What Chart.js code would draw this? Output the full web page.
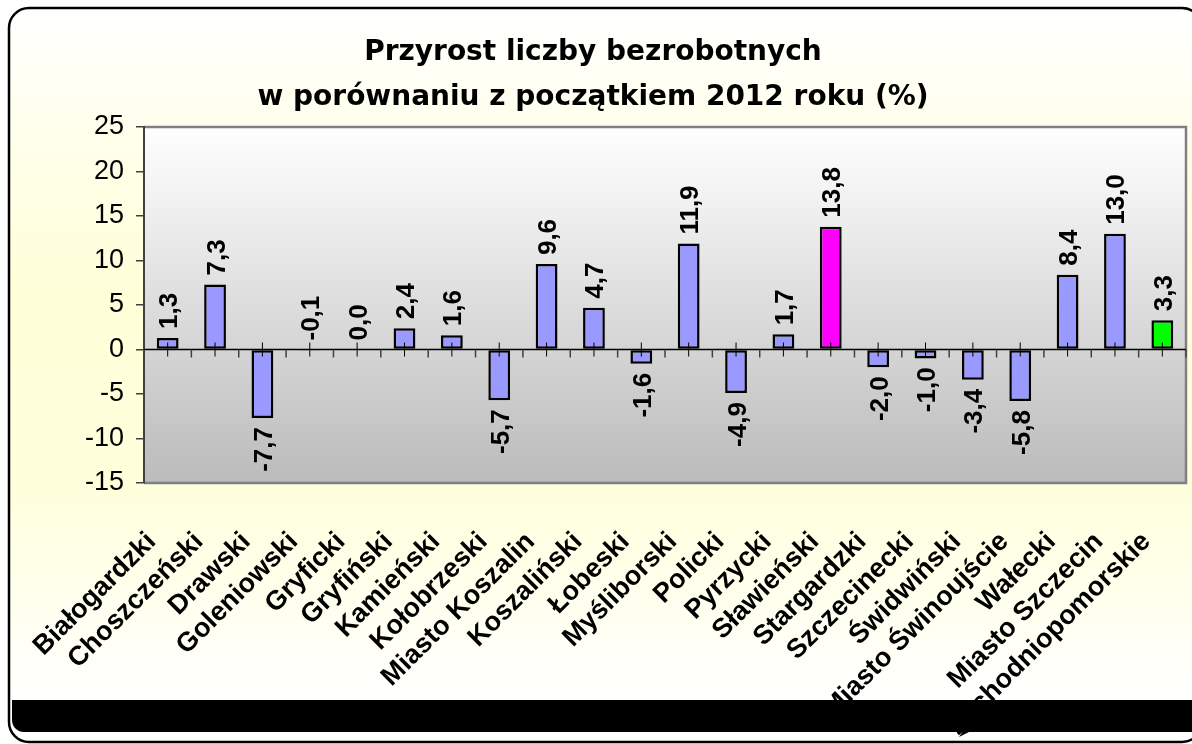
<!DOCTYPE html>
<html><head><meta charset="utf-8">
<script src="https://cdn.jsdelivr.net/npm/chart.js@4/dist/chart.umd.min.js"></script>
<style>html,body{margin:0;padding:0;background:#fff;overflow:hidden}#wrap{width:1192px;height:744px;position:relative}</style>
</head><body><div id="wrap"><canvas id="c" width="1192" height="744"></canvas></div>
<script>
const categories = ['Białogardzki','Choszczeński','Drawski','Goleniowski','Gryficki','Gryfiński','Kamieński','Kołobrzeski','Miasto Koszalin','Koszaliński','Łobeski','Myśliborski','Policki','Pyrzycki','Sławieński','Stargardzki','Szczecinecki','Świdwiński','Miasto Świnoujście','Wałecki','Miasto Szczecin','Zachodniopomorskie'];
const values = [1.3, 7.3, -7.7, -0.1, 0.0, 2.4, 1.6, -5.7, 9.6, 4.7, -1.6, 11.9, -4.9, 1.7, 13.8, -2.0, -1.0, -3.4, -5.8, 8.4, 13.0, 3.3];
const yTickValues = [-15, -10, -5, 0, 5, 10, 15, 20, 25];
const titleLines = ['Przyrost liczby bezrobotnych', 'w porównaniu z początkiem 2012 roku (%)'];

const barColor = '#9999FF';
const highlightColors = {'Sławieński': '#FF00FF', 'Zachodniopomorskie': '#00FF00'};
const FONT = '"Liberation Sans", Arial, sans-serif';

function roundRectPath(ctx, x, y, w, h, r) {
  ctx.beginPath();
  ctx.moveTo(x + r, y);
  ctx.lineTo(x + w - r, y);
  ctx.arcTo(x + w, y, x + w, y + r, r);
  ctx.lineTo(x + w, y + h - r);
  ctx.arcTo(x + w, y + h, x + w - r, y + h, r);
  ctx.lineTo(x + r, y + h);
  ctx.arcTo(x, y + h, x, y + h - r, r);
  ctx.lineTo(x, y + r);
  ctx.arcTo(x, y, x + r, y, r);
  ctx.closePath();
}

const backgroundPlugin = {
  id: 'bgFrame',
  beforeDraw(chart) {
    const ctx = chart.ctx;
    const W = chart.width, H = chart.height;
    ctx.save();
    ctx.fillStyle = '#ffffff';
    ctx.fillRect(0, 0, W, H);
    roundRectPath(ctx, 9, 8, W + 10 - 9, H - 2 - 8, 20);
    const g = ctx.createLinearGradient(0, 8, 0, H - 40);
    g.addColorStop(0, '#FFFFFF');
    g.addColorStop(0.2, '#FFFFEA');
    g.addColorStop(0.4, '#FFFFDA');
    g.addColorStop(0.68, '#FFFFDC');
    g.addColorStop(1, '#FFFFFF');
    ctx.fillStyle = g;
    ctx.fill();
    const a = chart.chartArea;
    const pg = ctx.createLinearGradient(0, a.top, 0, a.bottom);
    pg.addColorStop(0, '#FFFFFF');
    pg.addColorStop(1, '#BBBBBB');
    ctx.fillStyle = pg;
    ctx.fillRect(a.left, a.top, a.right - a.left, a.bottom - a.top);
    ctx.strokeStyle = '#808080';
    ctx.lineWidth = 2.5;
    ctx.beginPath();
    ctx.moveTo(a.left, a.top);
    ctx.lineTo(a.right, a.top);
    ctx.lineTo(a.right, a.bottom);
    ctx.lineTo(a.left, a.bottom);
    ctx.stroke();
    ctx.restore();
  },
  afterDatasetsDraw(chart) {
    const ctx = chart.ctx;
    const xs = chart.scales.x, ys = chart.scales.y;
    const a = chart.chartArea;
    const y0 = ys.getPixelForValue(0);
    const half = (xs.getPixelForValue(1) - xs.getPixelForValue(0)) / 2;
    ctx.save();
    ctx.strokeStyle = '#000';
    ctx.lineWidth = 1.5;
    ctx.beginPath();
    ctx.moveTo(a.left, y0);
    ctx.lineTo(a.right, y0);
    ctx.stroke();
    ctx.lineWidth = 1.5;
    ctx.strokeStyle = '#404040';
    for (let i = 0; i < categories.length; i++) {
      const bx = xs.getPixelForValue(i) + half;
      ctx.beginPath();
      ctx.moveTo(bx, y0);
      ctx.lineTo(bx, y0 + 8);
      ctx.stroke();
    }
    ctx.lineWidth = 1;
    ctx.strokeStyle = '#000';
    for (let i = 0; i < categories.length; i++) {
      const cx = xs.getPixelForValue(i);
      ctx.beginPath();
      ctx.moveTo(cx, y0 - 7);
      ctx.lineTo(cx, y0 + 7);
      ctx.stroke();
    }
    // value labels
    const meta = chart.getDatasetMeta(0);
    ctx.fillStyle = '#000';
    ctx.font = 'bold 26px ' + FONT;
    ctx.textBaseline = 'alphabetic';
    meta.data.forEach((bar, i) => {
      const v = values[i];
      const txt = v.toFixed(1).replace('.', ',');
      const below = v < -0.5;
      ctx.save();
      if (below) {
        ctx.translate(bar.x + 9.5, bar.y + 9);
        ctx.rotate(-Math.PI / 2);
        ctx.textAlign = 'right';
      } else {
        ctx.translate(bar.x + 9.5, Math.min(bar.y, y0) - 9);
        ctx.rotate(-Math.PI / 2);
        ctx.textAlign = 'left';
      }
      ctx.fillText(txt, 0, 0);
      ctx.restore();
    });
    ctx.restore();
  },
  afterDraw(chart) {
    const ctx = chart.ctx;
    const W = chart.width, H = chart.height;
    ctx.save();
    ctx.fillStyle = '#000';
    ctx.beginPath();
    ctx.moveTo(12, 700);
    ctx.lineTo(W, 700);
    ctx.lineTo(W, 732);
    ctx.lineTo(24, 732);
    ctx.arcTo(12, 732, 12, 720, 12);
    ctx.closePath();
    ctx.fill();
    ctx.beginPath();
    ctx.moveTo(959, 737);
    ctx.lineTo(963, 731);
    ctx.lineTo(971, 731);
    ctx.closePath();
    ctx.fill();
    ctx.strokeStyle = '#000';
    ctx.lineWidth = 2.5;
    roundRectPath(ctx, 9, 8, W + 10 - 9, H - 2 - 8, 20);
    ctx.stroke();
    ctx.restore();
  }
};

const colors = categories.map(c => highlightColors[c] || barColor);

new Chart(document.getElementById('c'), {
  type: 'bar',
  data: {
    labels: categories,
    datasets: [{
      data: values,
      backgroundColor: colors,
      borderColor: '#000',
      borderWidth: 2.5,
      borderSkipped: false,
      barPercentage: 0.46,
      categoryPercentage: 1.0
    }]
  },
  options: {
    responsive: false,
    animation: false,
    devicePixelRatio: 1,
    layout: {padding: {left: 0, right: 6, top: 0, bottom: 0}},
    plugins: {
      legend: {display: false},
      tooltip: {enabled: false},
      title: {
        display: true,
        text: titleLines,
        color: '#000',
        font: {family: '"DejaVu Sans", Verdana, sans-serif', size: 28, weight: 'bold', lineHeight: 45 / 28},
        padding: {top: 30, bottom: 7}
      }
    },
    scales: {
      x: {
        grid: {display: false, drawTicks: false},
        border: {display: false},
        ticks: {
          autoSkip: false,
          maxRotation: 45,
          minRotation: 45,
          padding: 43,
          labelOffset: -16,
          color: '#000',
          font: {family: FONT, size: 27, weight: 'bold'}
        },
        afterFit(s) { s.height = 261; s.paddingLeft = 0; s.paddingRight = 0; }
      },
      y: {
        min: -15,
        max: 25,
        grid: {drawOnChartArea: false, drawTicks: true, tickLength: 8, tickColor: '#404040', lineWidth: 1.5},
        border: {display: true, color: '#404040', width: 2},
        ticks: {
          color: '#000',
          padding: 12,
          font: {family: FONT, size: 27},
          callback: v => String(v)
        },
        afterBuildTicks(s) { s.ticks = yTickValues.map(v => ({value: v})); },
        afterFit(s) { s.width = 144; s.paddingTop = 0; s.paddingBottom = 0; }
      }
    }
  },
  plugins: [backgroundPlugin]
});
</script>
</body></html>
